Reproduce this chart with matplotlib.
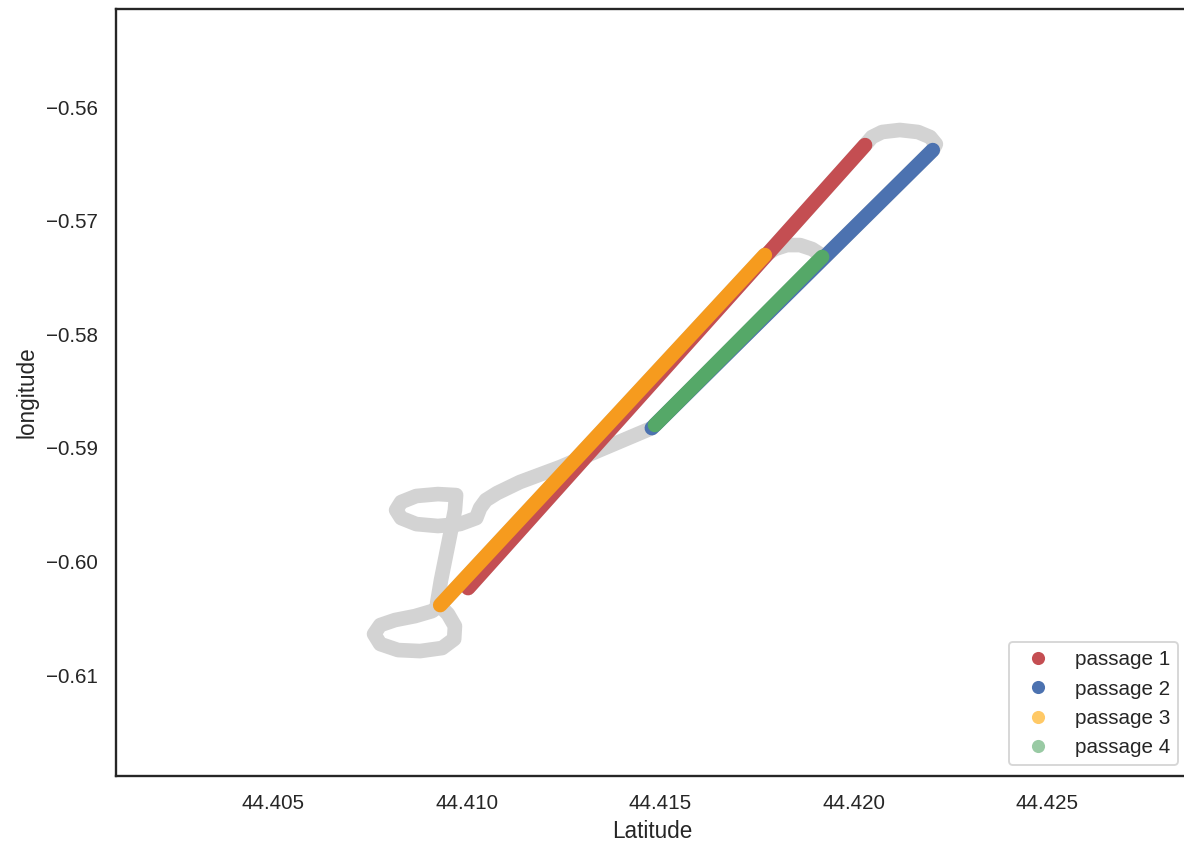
import matplotlib
matplotlib.use('Agg')
import matplotlib.pyplot as plt
import seaborn as sns
from matplotlib.lines import Line2D
from matplotlib.ticker import MultipleLocator

sns.set_theme(style='white', context='notebook')
plt.rcParams['font.family'] = ['Liberation Sans', 'DejaVu Sans']

# passages (latitude on x, longitude on y)
p1_lat = [44.41004, 44.41517, 44.42030]
p1_lon = [-0.60234, -0.58285, -0.56335]
p2_lat = [44.42205, 44.41842, 44.41479]
p2_lon = [-0.56379, -0.57602, -0.58826]
p3_lat = [44.40932, 44.41352, 44.41771]
p3_lon = [-0.60384, -0.58844, -0.57303]
p4_lat = [44.41919, 44.41703, 44.41487]
p4_lon = [-0.57320, -0.58060, -0.58799]

# grey parts of the track between passages
top_arc_lat = [44.42048, 44.42074, 44.42120, 44.42167, 44.42198, 44.42213]
top_arc_lon = [-0.56264, -0.56220, -0.56202, -0.56220, -0.56264, -0.56326]
mid_arc_lat = [44.41797, 44.41828, 44.41862, 44.41893, 44.41913]
mid_arc_lon = [-0.57250, -0.57215, -0.57215, -0.57250, -0.57294]
link_lat = [44.41345, 44.41242, 44.41138, 44.41079, 44.41050]
link_lon = [-0.59019, -0.59169, -0.59301, -0.59398, -0.59460]
loop1_lat = [44.41035, 44.41025, 44.40983, 44.40926, 44.40870, 44.40831,
             44.40818, 44.40831, 44.40870, 44.40926, 44.40973]
loop1_lon = [-0.59530, -0.59618, -0.59671, -0.59688, -0.59671, -0.59618,
             -0.59548, -0.59477, -0.59424, -0.59407, -0.59416]
down_lat = [44.40970, 44.40960, 44.40947, 44.40934, 44.40924]
down_lon = [-0.59548, -0.59724, -0.59944, -0.60164, -0.60366]
loop2_lat = [44.40952, 44.40970, 44.40968, 44.40937, 44.40880, 44.40823,
             44.40777, 44.40761, 44.40777, 44.40815, 44.40867, 44.40911]
loop2_lon = [-0.60463, -0.60569, -0.60683, -0.60762, -0.60789, -0.60780,
             -0.60727, -0.60639, -0.60560, -0.60516, -0.60481, -0.60437]

track_lat = (p1_lat + top_arc_lat + p2_lat + link_lat + loop1_lat + down_lat
             + loop2_lat + p3_lat + mid_arc_lat + p4_lat)
track_lon = (p1_lon + top_arc_lon + p2_lon + link_lon + loop1_lon + down_lon
             + loop2_lon + p3_lon + mid_arc_lon + p4_lon)

passages = [
    ('passage 1', p1_lat, p1_lon, '#C44E52', '#C44E52', 1.0),
    ('passage 2', p2_lat, p2_lon, '#4C72B0', '#4C72B0', 1.0),
    ('passage 3', p3_lat, p3_lon, '#F69B1E', 'orange', 0.6),
    ('passage 4', p4_lat, p4_lon, '#55A868', '#55A868', 0.6),
]

W, H, DPI = 1184, 841, 135
fig = plt.figure(figsize=(W / DPI, H / DPI), dpi=DPI)
ax = fig.add_axes([116 / W, 1 - 775.7 / H, (1188.5 - 116) / W, (775.7 - 9) / H])

lw = 7.8
ax.plot(track_lat, track_lon, color='lightgray', lw=lw,
        solid_capstyle='round', solid_joinstyle='round')

handles = []
for name, la, lo, c_line, c_leg, a in passages:
    ax.plot(la, lo, color=c_line, lw=lw, solid_capstyle='round')
    handles.append(Line2D([], [], linestyle='none', marker='o', markersize=7,
                          markerfacecolor=c_leg, markeredgecolor='none',
                          alpha=a, label=name))

ax.set_xlim(44.40094, 44.42866)
ax.set_ylim(-0.61886, -0.55137)
ax.xaxis.set_major_locator(MultipleLocator(0.005))
ax.yaxis.set_major_locator(MultipleLocator(0.01))
ax.ticklabel_format(useOffset=False)

ax.set_xlabel('Latitude')
ax.set_ylabel('longitude')
ax.legend(handles=handles, loc='lower right')

fig.savefig('out.png', dpi=DPI)
